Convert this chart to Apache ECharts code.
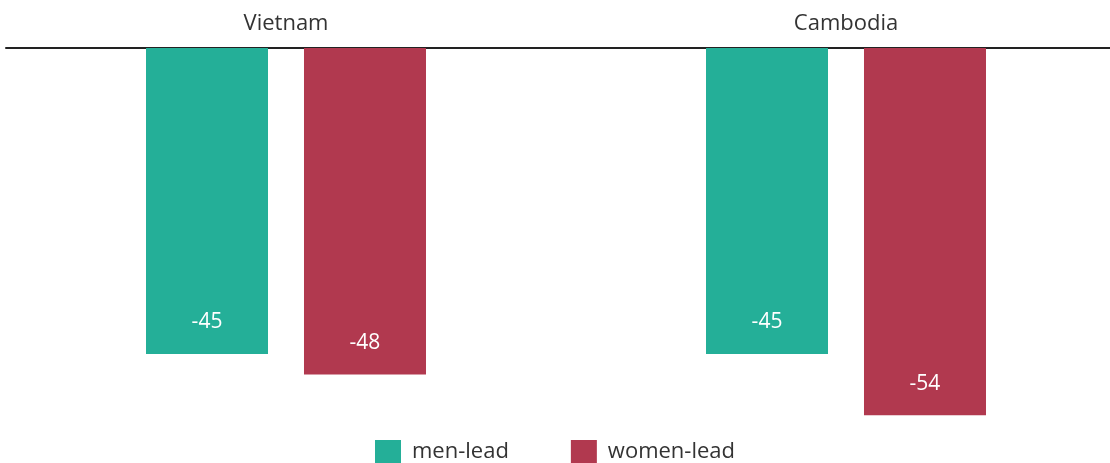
<!DOCTYPE html>
<html>
<head>
<meta charset="utf-8">
<style>
  html, body { margin: 0; padding: 0; background: #ffffff; }
  #chart { width: 1110px; height: 463px; }
</style>
<script src="https://cdn.jsdelivr.net/npm/echarts@6/dist/echarts.min.js"></script>
</head>
<body>
<div id="chart"></div>
<script>
// Countries along the top axis
const countries = ['Vietnam', 'Cambodia'];
// Series names and their values per country
const seriesNames = ['men-lead', 'women-lead'];
const menLead = [-45, -45];
const womenLead = [-48, -54];

const colors = ['#24AF98', '#B1394F'];
const fontFamily = '"Open Sans", "Noto Sans", sans-serif';

const chart = echarts.init(document.getElementById('chart'), null, { renderer: 'canvas' });

const barLabel = {
  show: true,
  position: 'insideBottom',
  distance: 21,
  color: '#ffffff',
  fontSize: 21,
  fontFamily: fontFamily
};

chart.setOption({
  animation: false,
  color: colors,
  grid: {
    left: 6,
    right: -16,
    top: 48,
    bottom: 7,
    containLabel: false,
    outerBoundsMode: 'none'
  },
  legend: {
    data: seriesNames,
    top: 435,
    left: 'center',
    icon: 'rect',
    itemWidth: 26,
    itemHeight: 23,
    itemGap: 62,
    textStyle: {
      color: '#333333',
      fontSize: 22,
      fontFamily: fontFamily,
      padding: [0, 0, 0, 6]
    }
  },
  xAxis: {
    type: 'category',
    position: 'top',
    data: countries,
    axisLine: { show: true, lineStyle: { color: '#222222', width: 2 } },
    axisTick: { show: false },
    axisLabel: {
      color: '#333333',
      fontSize: 22,
      fontFamily: fontFamily,
      margin: 13
    }
  },
  yAxis: {
    type: 'value',
    min: -60,
    max: 0,
    show: false,
    splitLine: { show: false }
  },
  series: [
    {
      name: seriesNames[0],
      type: 'bar',
      data: menLead,
      barWidth: 122,
      barGap: '29.5%',
      label: barLabel
    },
    {
      name: seriesNames[1],
      type: 'bar',
      data: womenLead,
      barWidth: 122,
      barGap: '29.5%',
      label: barLabel
    }
  ]
});
</script>
</body>
</html>
